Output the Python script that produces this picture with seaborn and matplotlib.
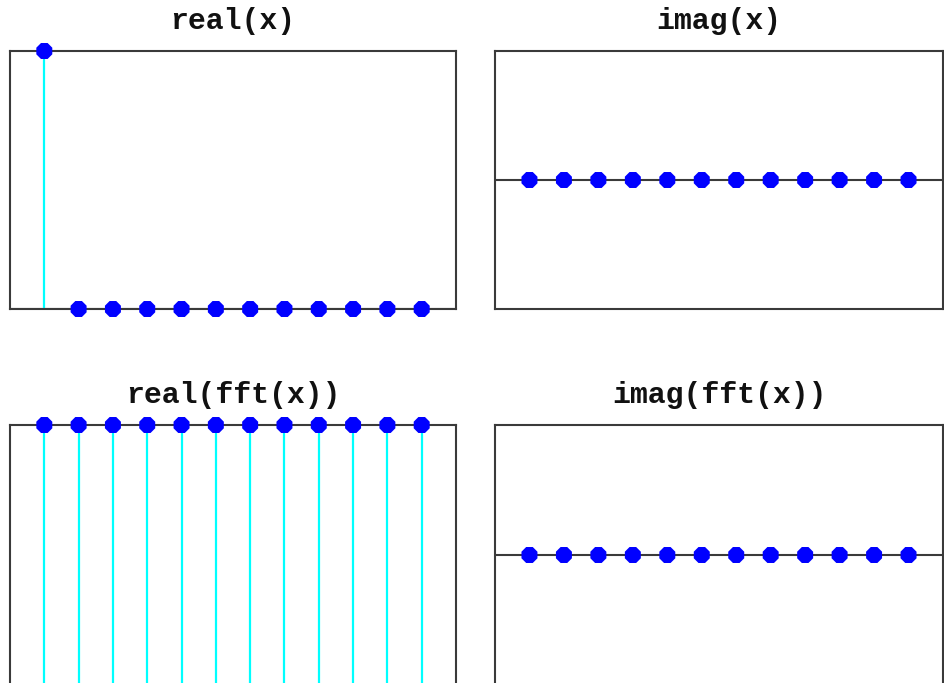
import matplotlib
matplotlib.use("Agg")
import matplotlib.pyplot as plt
import seaborn as sns
import pandas as pd

# --- Data: unit impulse and its DFT (12 samples) ---
sample_index = [0, 1, 2, 3, 4, 5, 6, 7, 8, 9, 10, 11]
real_x = [1, 0, 0, 0, 0, 0, 0, 0, 0, 0, 0, 0]
imag_x = [0, 0, 0, 0, 0, 0, 0, 0, 0, 0, 0, 0]
real_fft_x = [1, 1, 1, 1, 1, 1, 1, 1, 1, 1, 1, 1]
imag_fft_x = [0, 0, 0, 0, 0, 0, 0, 0, 0, 0, 0, 0]

panel_titles = ["real(x)", "imag(x)", "real(fft(x))", "imag(fft(x))"]
panel_values = [real_x, imag_x, real_fft_x, imag_fft_x]
panel_ylims = [(0, 1), (-1, 1), (0, 1), (-1, 1)]

# --- Style ---
STEM_CYAN = "#00ffff"
MARKER_BLUE = "#0000ff"
SPINE_GREY = "#3a3a3a"

sns.set_style("white")
plt.rcParams["font.family"] = ["Liberation Mono", "DejaVu Sans Mono"]

W, H = 944, 683
fig = plt.figure(figsize=(W / 100, H / 100), dpi=100)

# axes boxes in pixels: (left, top, right, bottom)
boxes = [
    (10, 51, 456, 309),
    (495, 51, 943, 309),
    (10, 425, 456, 685),
    (495, 425, 943, 685),
]


def stem_panel(ax, values, title, ylim):
    df = pd.DataFrame({"n": sample_index, "value": values})
    # stems from zero to the value
    ax.vlines(df["n"], 0, df["value"], color=STEM_CYAN, linewidth=1.6, zorder=2)
    # baseline
    ax.axhline(0, color=SPINE_GREY, linewidth=1.5, zorder=1)
    sns.scatterplot(data=df, x="n", y="value", ax=ax, marker="8", s=155,
                    color=MARKER_BLUE, edgecolor="none", linewidth=0,
                    zorder=4, legend=False)
    for coll in ax.collections:
        coll.set_clip_on(False)
    ax.set_xlim(-1, 12)
    ax.set_ylim(*ylim)
    ax.set_xticks([])
    ax.set_yticks([])
    ax.set_xlabel("")
    ax.set_ylabel("")
    for sp in ax.spines.values():
        sp.set_color(SPINE_GREY)
        sp.set_linewidth(1.5)
        sp.set_zorder(3)
    ax.set_title(title, fontsize=21.5, fontweight="bold", pad=16, color="#111111")


for (l, t, r, b), vals, title, ylim in zip(boxes, panel_values, panel_titles, panel_ylims):
    ax = fig.add_axes([l / W, 1 - b / H, (r - l) / W, (b - t) / H])
    stem_panel(ax, vals, title, ylim)

fig.savefig("out.png", dpi=100)
